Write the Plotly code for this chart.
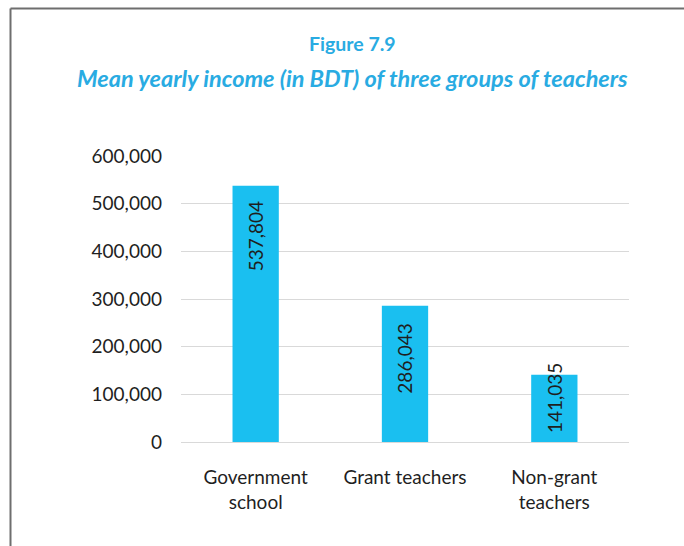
import plotly.graph_objects as go

categories = ["Government<br>school", "Grant teachers", "Non-grant<br>teachers"]
values = [537804, 286043, 141035]
value_labels = ["537,804", "286,043", "141,035"]
tick_vals = [0, 100000, 200000, 300000, 400000, 500000, 600000]
tick_text = ["0", "100,000", "200,000", "300,000", "400,000", "500,000", "600,000"]

# label vertical offsets (px) relative to the bar top
label_shift = [-14, -16, 14]

W, H = 684, 546
L, R, T, B = 181, 55, 156, 104
pw, ph = W - L - R, H - T - B

def px_x(px):
    return (px - L) / pw

def px_y(py):
    return (H - B - py) / ph

FONT = "Lato"
BLUE = "#29ABE2"
BAR = "#1ABFF0"
TXT = "#1F1F1F"

fig = go.Figure()
fig.add_trace(go.Bar(
    x=categories, y=values, marker_color=BAR, marker_line_width=0,
    hoverinfo="skip", showlegend=False,
))

for c, v, t, s in zip(categories, values, value_labels, label_shift):
    fig.add_annotation(
        x=c, y=v, xref="x", yref="y", text=t, showarrow=False,
        textangle=-90, yanchor="top", xanchor="center", yshift=s,
        font=dict(family=FONT, size=19, color=TXT),
    )

fig.add_annotation(
    x=px_x(352), y=px_y(44), xref="paper", yref="paper",
    text="<b>Figure 7.9</b>", showarrow=False,
    xanchor="center", yanchor="middle",
    font=dict(family=FONT, size=19.5, color=BLUE),
)
fig.add_annotation(
    x=px_x(352), y=px_y(78), xref="paper", yref="paper",
    text="<b><i>Mean yearly income (in BDT) of three groups of teachers</i></b>",
    showarrow=False, xanchor="center", yanchor="middle",
    font=dict(family=FONT, size=23.5, color=BLUE),
)

# border lines (top and left)
fig.add_shape(type="line", xref="paper", yref="paper",
              x0=px_x(10.5), x1=px_x(690), y0=px_y(8.5), y1=px_y(8.5),
              line=dict(color="#6E6E6E", width=2))
fig.add_shape(type="line", xref="paper", yref="paper",
              x0=px_x(10.5), x1=px_x(10.5), y0=px_y(8.5), y1=px_y(560),
              line=dict(color="#6E6E6E", width=2))

fig.update_layout(
    width=W, height=H,
    margin=dict(l=L, r=R, t=T, b=B, autoexpand=False),
    paper_bgcolor="white", plot_bgcolor="white",
    bargap=0.69,
    font=dict(family=FONT, size=19, color=TXT),
    xaxis=dict(showgrid=False, showline=False, ticks="", ticklabelstandoff=22,
               tickfont=dict(family=FONT, size=19, color=TXT)),
    yaxis=dict(range=[0, 600000], tickvals=tick_vals, ticktext=tick_text,
               showgrid=True, gridcolor="#D9D9D9", gridwidth=1.3,
               zeroline=True, zerolinecolor="#D9D9D9", zerolinewidth=1.3,
               showline=False, ticks="", ticklabelstandoff=18,
               tickfont=dict(family=FONT, size=19, color=TXT)),
)

fig.write_html("out.html")
